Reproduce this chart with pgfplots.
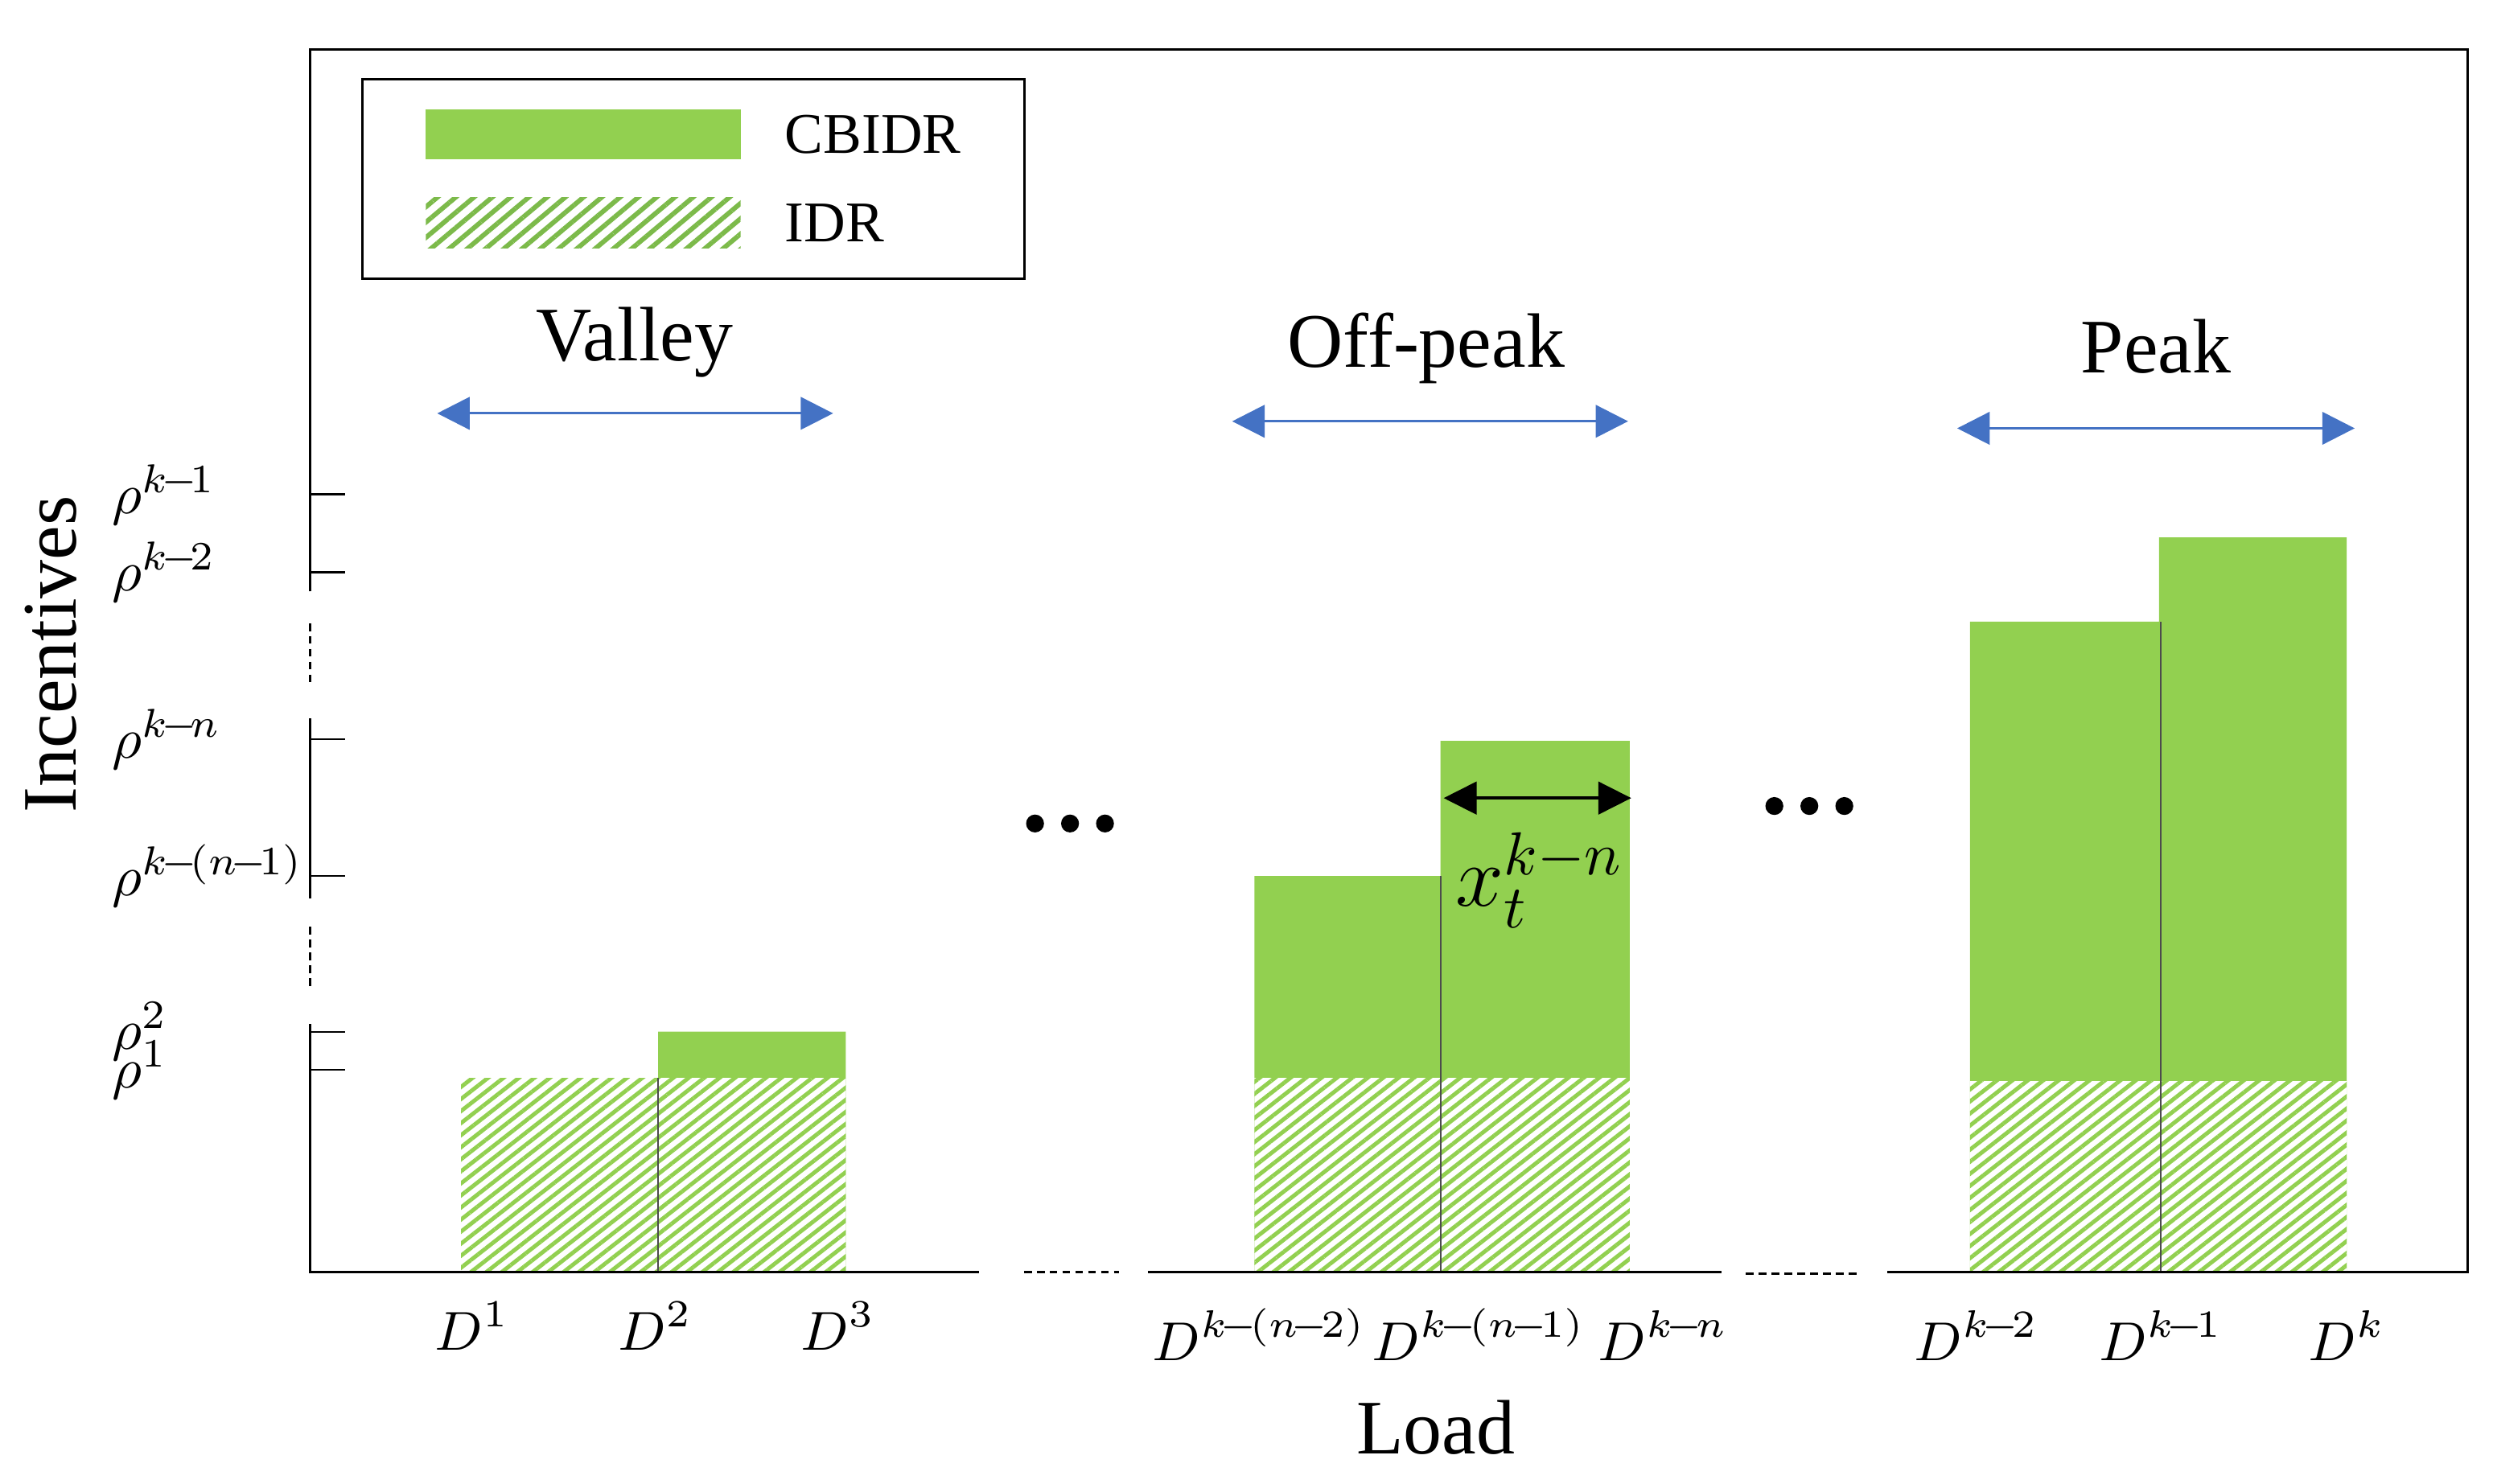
\documentclass[border=0pt]{standalone}
\usepackage{fix-cm}
\usepackage[no-math]{fontspec}
\setmainfont{Liberation Serif}
\usepackage{pgfplots}
\pgfplotsset{compat=1.18}
\usetikzlibrary{arrows.meta,patterns.meta}
\definecolor{cbgreen}{HTML}{92D050}
\definecolor{idrgreen}{HTML}{92D050}
\definecolor{leggreen}{HTML}{7CBA4A}
\definecolor{arrowblue}{HTML}{4472C4}
\newcommand{\bigfont}{\fontsize{13.8}{16}\selectfont}
\newcommand{\tickfont}{\fontsize{9.8}{12}\selectfont}
\newcommand{\mn}{\mkern-2.5mu-\mkern-2.5mu}
\tikzset{idrhatch/.style={preaction={fill=white}, pattern={Lines[angle=38,distance=1.7pt,line width=0.72pt]}, pattern color=idrgreen}}

\begin{document}
\begin{tikzpicture}
\begin{axis}[
  scale only axis,
  width=13.57cm, height=7.69cm,
  xmin=195, xmax=1552, ymin=0, ymax=769,
  clip=false,
  axis line style={draw=none},
  ytick={127,151,249,335,440,489},
  yticklabels={\raisebox{-0.05cm}{$\rho^{1}$},$\rho^{2}$,$\rho^{k\mn(n\mn1)}$,$\rho^{k\mn n}$,$\rho^{k\mn2}$,$\rho^{k\mn1}$},
  ytick pos=left,
  tick align=inside,
  major tick length=0.22cm,
  ytick style={black, line width=0.35pt},
  yticklabel style={anchor=west, inner sep=0pt, xshift=-1.25cm, font=\fontsize{10.3}{12}\selectfont},
  xtick={297,412,527,792,930,1046,1243,1359,1476},
  xticklabels={\raisebox{0.07cm}{$D^{1}$},\raisebox{0.07cm}{$D^{2}$},\raisebox{0.07cm}{$D^{3}$},$D^{k\mn(n\mn2)}$,$D^{k\mn(n\mn1)}$,$D^{k\mn n}$,$D^{k\mn2}$,$D^{k\mn1}$,$D^{k}$},
  xtick style={draw=none},
  xticklabel style={anchor=base, inner sep=0pt, yshift=-0.56cm, font=\tickfont},
  xlabel={Load},
  xlabel style={at={(axis cs:903,-114.5)}, anchor=base, inner sep=0pt, font=\bigfont},
  ylabel={Incentives},
  ylabel style={at={(axis cs:48,388.5)}, anchor=base, inner sep=0pt, font=\bigfont},
  legend style={at={(axis cs:227,751)}, anchor=north west, draw=black, line width=0.45pt,
    inner xsep=0.4cm, inner ysep=0.19cm, row sep=0.24cm, column sep=0.28cm,
    font=\fontsize{10.3}{12}\selectfont, nodes={inner sep=0pt, text depth=0pt}},
  legend cell align=left,
]
% CBIDR (total incentive level)
\addplot[const plot, fill=cbgreen, draw=none,
  legend image code/.code={\fill[cbgreen] (0cm,-0.157cm) rectangle (1.98cm,0.157cm);}]
  coordinates {(290,122) (414,151) (532,151)} \closedcycle;
\addlegendentry{CBIDR}
\addplot[const plot, fill=cbgreen, draw=none, forget plot]
  coordinates {(789,249) (906,334) (1025,334)} \closedcycle;
\addplot[const plot, fill=cbgreen, draw=none, forget plot]
  coordinates {(1239,409) (1358,462) (1476,462)} \closedcycle;
% IDR (flat incentive)
\addplot[const plot, draw=none, idrhatch,
  legend image code/.code={\path[preaction={fill=white}, pattern={Lines[angle=40,distance=2.1pt,line width=0.85pt]}, pattern color=leggreen] (0cm,-0.16cm) rectangle (1.98cm,0.16cm);}]
  coordinates {(290,122) (532,122)} \closedcycle;
\addlegendentry{IDR}
\addplot[const plot, draw=none, idrhatch, forget plot]
  coordinates {(789,122) (1025,122)} \closedcycle;
\addplot[const plot, draw=none, idrhatch, forget plot]
  coordinates {(1239,120) (1476,120)} \closedcycle;
% separators
\addplot[forget plot, black!70, line width=0.3pt] coordinates {(414,0) (414,122)};
\addplot[forget plot, black!70, line width=0.3pt] coordinates {(906,0) (906,249)};
\addplot[forget plot, black!70, line width=0.3pt] coordinates {(1359,0) (1359,409)};
% ellipsis dots
\addplot[forget plot, only marks, mark=*, mark size=1.4pt, black] coordinates {(651,282) (673,282) (695,282)};
\addplot[forget plot, only marks, mark=*, mark size=1.4pt, black] coordinates {(1116,293) (1138,293) (1160,293)};

% frame
\draw[line width=0.45pt] (axis cs:195,428) -- (axis cs:195,769) -- (axis cs:1552,769) -- (axis cs:1552,0) -- (axis cs:1187,0);
\draw[line width=0.45pt] (axis cs:195,348) -- (axis cs:195,235);
\draw[line width=0.45pt] (axis cs:195,156) -- (axis cs:195,0) -- (axis cs:616,0);
\draw[line width=0.45pt] (axis cs:722,0) -- (axis cs:1083,0);
\draw[line width=0.45pt, dash pattern=on 1.4pt off 0.9pt] (axis cs:195,408) -- (axis cs:195,368);
\draw[line width=0.45pt, dash pattern=on 1.4pt off 0.9pt] (axis cs:195,217) -- (axis cs:195,178);
\draw[line width=0.45pt, dash pattern=on 1.4pt off 0.9pt] (axis cs:644,0) -- (axis cs:704,0);
\draw[line width=0.45pt, dash pattern=on 1.4pt off 0.9pt] (axis cs:1098,-1) -- (axis cs:1169,-1);

% period labels and arrows
\node[anchor=base, font=\bigfont, inner sep=0pt] at (axis cs:399,573) {Valley};
\node[anchor=base, font=\bigfont, inner sep=0pt] at (axis cs:897,569) {Off-peak};
\node[anchor=base, font=\bigfont, inner sep=0pt] at (axis cs:1356,565.5) {Peak};
\draw[arrowblue, line width=0.45pt, {Triangle[length=5.8pt,width=5.8pt]}-{Triangle[length=5.8pt,width=5.8pt]}] (axis cs:275,540) -- (axis cs:524,540);
\draw[arrowblue, line width=0.45pt, {Triangle[length=5.8pt,width=5.8pt]}-{Triangle[length=5.8pt,width=5.8pt]}] (axis cs:775,535) -- (axis cs:1024,535);
\draw[arrowblue, line width=0.45pt, {Triangle[length=5.8pt,width=5.8pt]}-{Triangle[length=5.8pt,width=5.8pt]}] (axis cs:1231,530.6) -- (axis cs:1481,530.6);
% x_t^{k-n}
\draw[black, line width=0.6pt, {Triangle[length=5.9pt,width=5.8pt]}-{Triangle[length=5.9pt,width=5.8pt]}] (axis cs:908,298) -- (axis cs:1026,298);
\node[anchor=base west, inner sep=0pt, font=\fontsize{15.5}{18}\selectfont] at (axis cs:915,230) {$x_t^{k-n}$};

% picture extent
\path (axis cs:0,-133) rectangle (axis cs:1568,800);
\end{axis}
\end{tikzpicture}
\end{document}
